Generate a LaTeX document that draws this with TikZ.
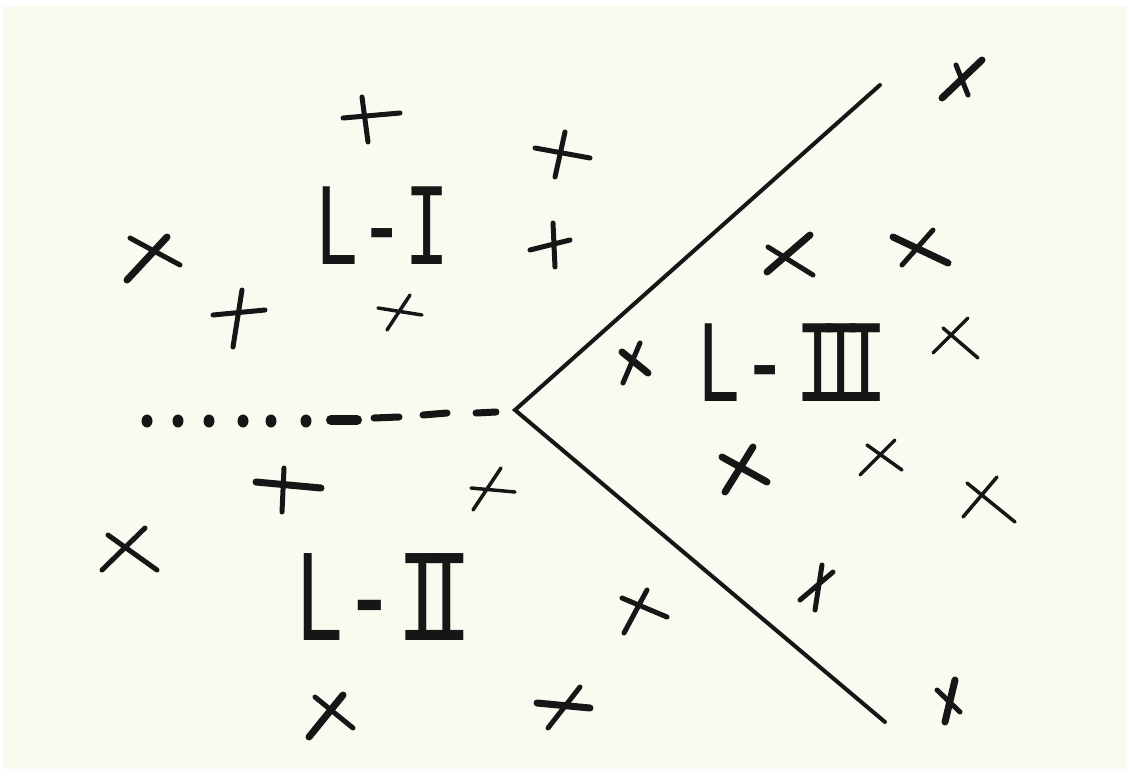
\documentclass[tikz,border=0pt]{standalone}
\usepackage{fontspec}
\newfontfamily\labfont[FakeStretch=0.64]{Liberation Mono}
\definecolor{paper}{RGB}{250,250,240}
\definecolor{ink}{RGB}{22,22,22}
\tikzset{
  xs/.style={draw=ink,line width=5pt,line cap=round},
  xt/.style={draw=ink,line width=7pt,line cap=round},
  xn/.style={draw=ink,line width=3.5pt,line cap=round},
  bound/.style={draw=ink,line width=4pt,line cap=round,line join=miter},
  dashseg/.style={draw=ink,line width=7pt,line cap=round},
  dotmark/.style={fill=ink},
  lab/.style={inner sep=0pt,text=ink,font=\labfont\fontsize{118}{118}\selectfont},
  labbig/.style={inner sep=0pt,text=ink,font=\labfont\fontsize{132}{132}\selectfont}
}
\begin{document}
\begin{tikzpicture}[x=1pt,y=-1pt]
\fill[paper] (0,0) rectangle (1127,769);
\fill[white] (0,0) rectangle (1127,6);
\fill[white] (0,0) rectangle (3,769);
\useasboundingbox (0,0) rectangle (1127,769);

% phase boundaries
\coordinate (v) at (515,410);
\coordinate (ua) at (880,85);
\coordinate (lb) at (885,722);
\draw[bound] (ua) -- (v) -- (lb);

% dotted then dashed extension
\foreach \x in {147,178,209,243,271,306}
  \fill[dotmark] (\x,421) ellipse (5.5pt and 6.5pt);
\coordinate (e1) at (331,420); \coordinate (e2) at (357,420);
\coordinate (e3) at (374,418); \coordinate (e4) at (399,417);
\coordinate (e5) at (423,415); \coordinate (e6) at (447,413);
\coordinate (e7) at (476,413); \coordinate (e8) at (496,412);
\draw[dashseg,line width=10pt] (e1) -- (e2);
\draw[dashseg] (e3) -- (e4);
\draw[dashseg] (e5) -- (e6);
\draw[dashseg] (e7) -- (e8);

% labels
\node[lab] (l1) at (382,226) {L-I};
\node[lab] (l3) at (792,363) {L-\kern8ptI\kern-22ptI\kern-22ptI};
\node[labbig] (l2) at (383,597) {L-\kern2ptI\kern-27ptI};

% region L-I crosses
\draw[xs] (343,118) -- (400,113) (362,97) -- (368,142);
\draw[xs] (535,148) -- (590,158) (565,132) -- (555,177);
\draw[xs] (130,238) -- (180,265);
\draw[xt] (167,237) -- (127,280);
\draw[xs] (213,315) -- (265,310) (242,290) -- (233,347);
\draw[xn] (378,308) -- (422,315) (410,295) -- (387,330);
\draw[xs] (530,250) -- (570,240) (553,223) -- (555,267);

% region L-II crosses
\draw[xt] (256,482) -- (321,488);
\draw[xs] (284,468) -- (282,512);
\draw[xs] (102,570) -- (145,528) (108,535) -- (157,570);
\draw[xn] (471,488) -- (515,492) (501,468) -- (473,510);
\draw[xs] (622,598) -- (667,617) (647,590) -- (624,633);
\draw[xt] (309,737) -- (343,695);
\draw[xs] (315,697) -- (353,728);
\draw[xt] (537,703) -- (590,708);
\draw[xs] (580,687) -- (548,728);

% region L-III crosses
\draw[xt] (767,272) -- (810,235);
\draw[xs] (768,247) -- (813,275);
\draw[xt] (893,237) -- (948,263);
\draw[xs] (933,230) -- (902,265);
\draw[xt] (622,352) -- (648,373);
\draw[xs] (640,343) -- (623,383);
\draw[xn] (933,353) -- (968,318) (943,328) -- (978,358);
\draw[xt] (722,457) -- (767,482) (753,447) -- (725,492);
\draw[xn] (860,475) -- (895,440) (867,445) -- (902,470);
\draw[xn] (963,517) -- (997,477) (967,483) -- (1015,522);
\draw[xt] (942,98) -- (982,60);
\draw[xs] (956,65) -- (968,95);
\draw[xs] (800,600) -- (833,572) (822,565) -- (815,610);
\draw[xs] (937,690) -- (960,712);
\draw[xt] (955,680) -- (945,722);
\end{tikzpicture}
\end{document}
